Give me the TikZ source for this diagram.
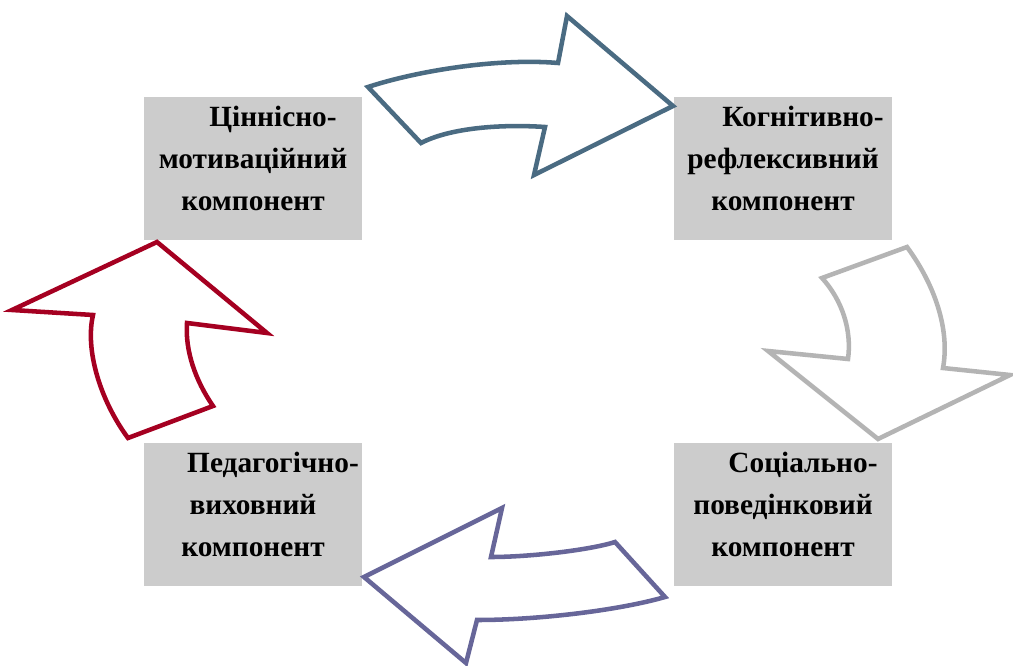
\documentclass[tikz,border=0pt]{standalone}
\usepackage{fontspec}
\setmainfont{Liberation Serif}
\usepackage{xcolor}
\usepackage{tikz}
\usetikzlibrary{positioning}
\definecolor{boxgray}{RGB}{204,204,204}
\definecolor{slateblue}{RGB}{74,107,130}
\definecolor{softgray}{RGB}{180,180,180}
\definecolor{dusk}{RGB}{103,102,153}
\definecolor{crimson}{RGB}{165,0,33}
\tikzset{%
	component/.style = {fill=boxgray, rectangle, inner sep=0pt, minimum width=163.5pt, minimum height=107.25pt, align=center, text depth=15pt, font=\fontsize{22}{31.5}\selectfont\bfseries},
	cyclearrow/.style = {line width=3.4pt, fill=white, line join=miter},
}
\newcommand{\firstline}{\hspace*{30pt}}

\begin{document}
\begin{tikzpicture}[x=0.75pt,y=-0.75pt]
	\useasboundingbox (0,0) rectangle (1013,666);
	\node[component] (valmot) at (253,168.5) {\firstline Ціннісно-\\мотиваційний\\компонент};
	\node[component] (cogref) at (783,168.5) {\firstline Когнітивно-\\рефлексивний\\компонент};
	\node[component] (socbeh) at (783,514.5) {\firstline Соціально-\\поведінковий\\компонент};
	\node[component] (pededu) at (253,514.5) {\firstline Педагогічно-\\виховний\\компонент};
	
	% top arrow
	\draw[cyclearrow, draw=slateblue] (368,87) .. controls (420,70) and (500,58) .. (558,63)
		-- (567,16) -- (673,106) -- (534,175) -- (545,127)
		.. controls (500,124) and (450,128) .. (421,143) -- cycle;
	% right arrow
	\draw[cyclearrow, draw=softgray] (822,278) -- (907,247)
		.. controls (935,285) and (950,330) .. (943,368)
		-- (1010,375) -- (878,439) -- (768,351) -- (848,359)
		.. controls (852,330) and (842,300) .. cycle;
	% bottom arrow
	\draw[cyclearrow, draw=dusk] (615,542) -- (665,597)
		.. controls (620,610) and (540,620) .. (477,620)
		-- (466,663) -- (364,577) -- (502,508) -- (491,557)
		.. controls (530,557) and (590,550) .. cycle;
	% left arrow
	\draw[cyclearrow, draw=crimson] (128,438) -- (213,406)
		.. controls (195,380) and (185,350) .. (187,323)
		-- (267,333) -- (157,242) -- (12,310) -- (93,315)
		.. controls (85,350) and (100,400) .. cycle;
\end{tikzpicture}
\end{document}
